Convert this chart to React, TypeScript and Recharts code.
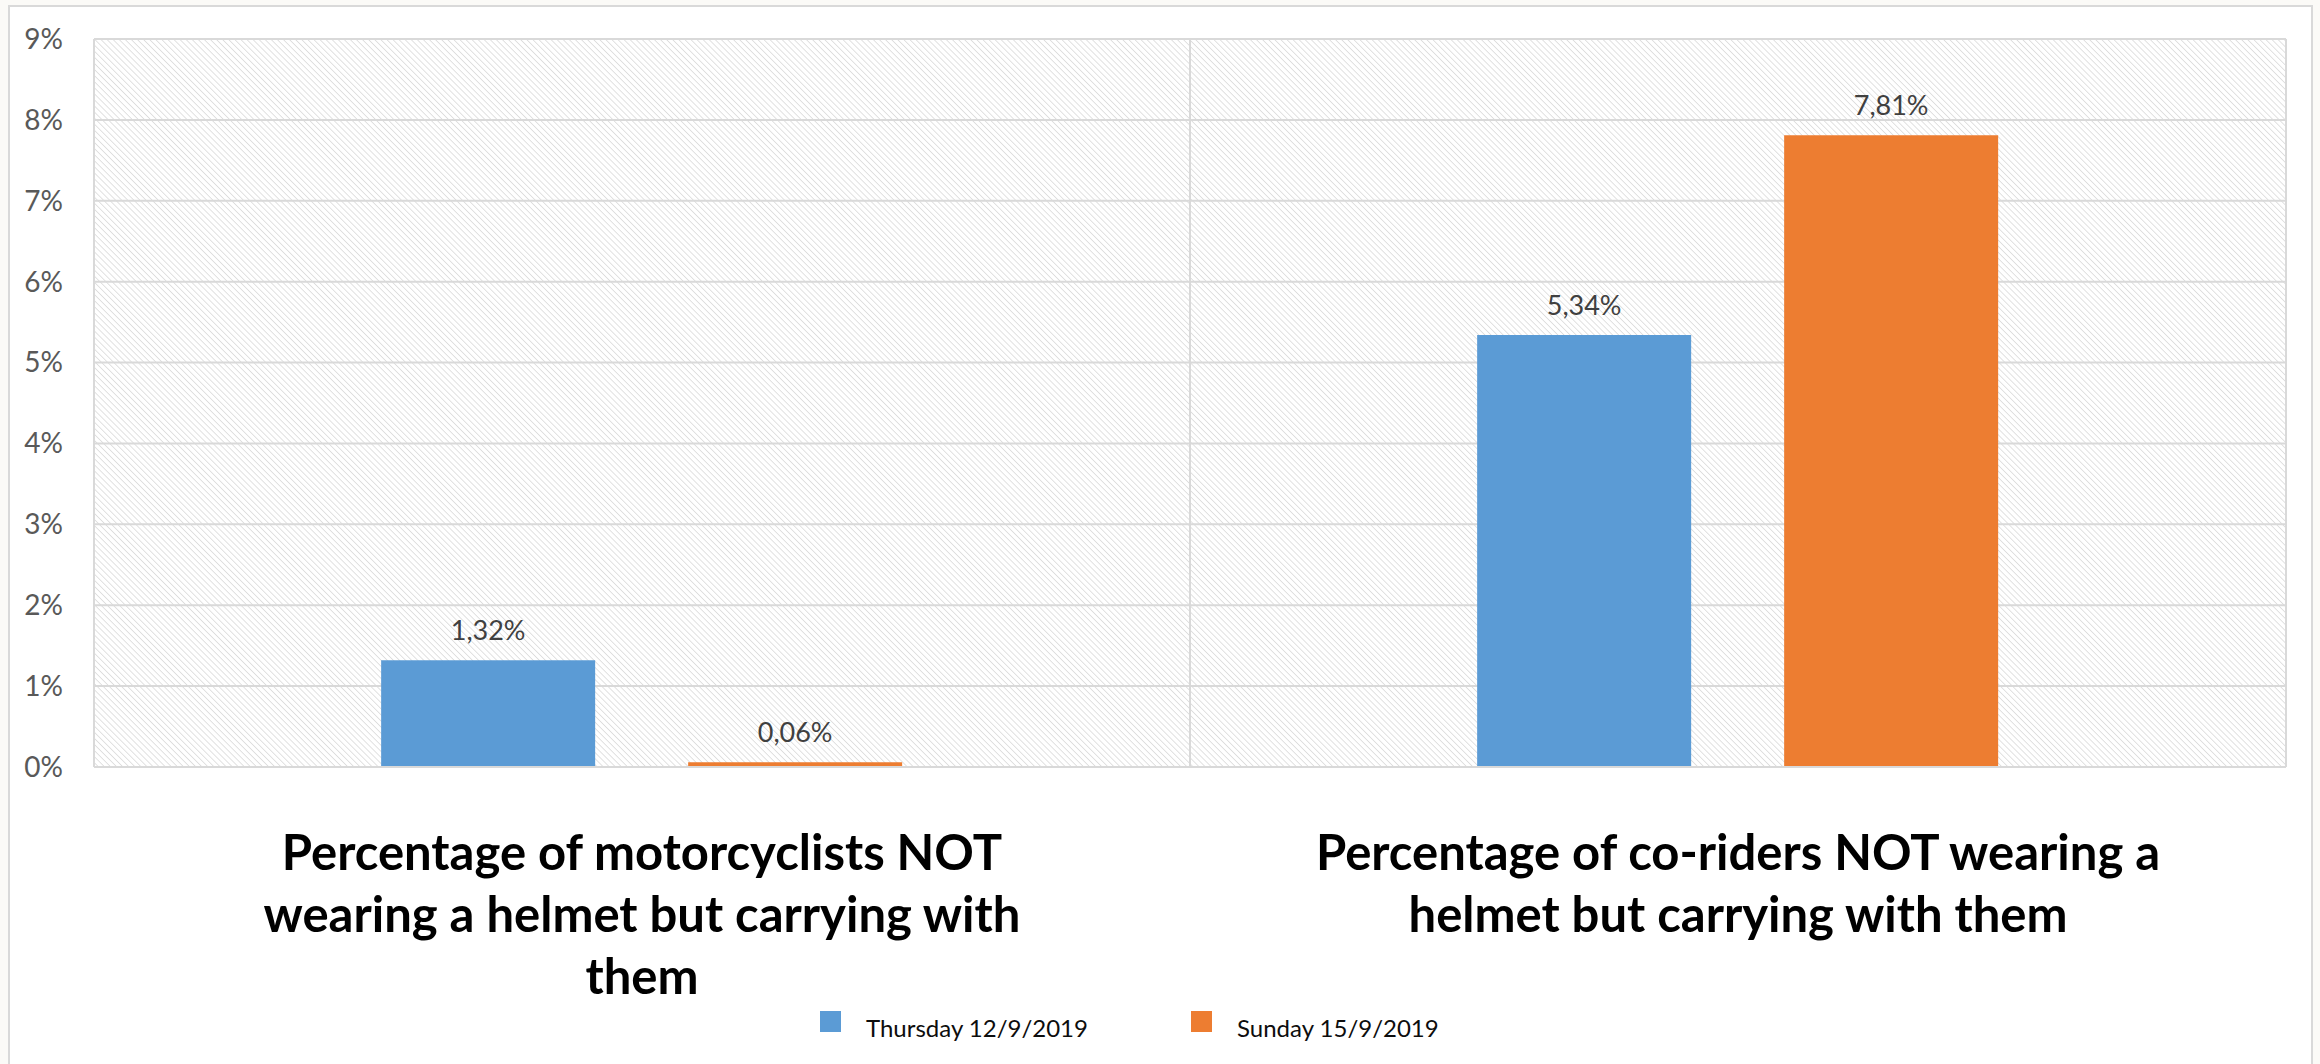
import React from 'react';
import { BarChart, Bar, XAxis, YAxis, CartesianGrid, LabelList } from 'recharts';

// Category labels, already broken into display lines
const categoryLines: string[][] = [
  ['Percentage of motorcyclists NOT', 'wearing a helmet but carrying with', 'them'],
  ['Percentage of co-riders NOT wearing a', 'helmet but carrying with them'],
];
const categories: string[] = categoryLines.map((lines) => lines.join(' '));

// Shares in percent
const thursdayValues: number[] = [1.32, 5.34];
const sundayValues: number[] = [0.06, 7.81];

const seriesKeys = ['thursday', 'sunday'];
const seriesNames: string[] = ['Thursday 12/9/2019', 'Sunday 15/9/2019'];
const seriesColors: string[] = ['#5B9BD5', '#ED7D31'];

const yTicks: number[] = [0, 1, 2, 3, 4, 5, 6, 7, 8, 9];

const data = categories.map((category, i) => ({
  category,
  thursday: thursdayValues[i],
  sunday: sundayValues[i],
}));

const FONT = 'Lato, "Open Sans", sans-serif';

const formatPct = (v: number) => `${v.toFixed(2).replace('.', ',')}%`;

const CategoryTick = (props: any) => {
  const { x, y, payload } = props;
  const idx = categories.indexOf(payload.value);
  const lines = idx >= 0 ? categoryLines[idx] : [String(payload.value)];
  return (
    <text
      x={x}
      y={y}
      textAnchor="middle"
      fontFamily={FONT}
      fontWeight={700}
      fontSize={49}
      fill="#000000"
    >
      {lines.map((line, i) => (
        <tspan key={i} x={x} dy={i === 0 ? 97 : 62}>
          {line}
        </tspan>
      ))}
    </text>
  );
};

// Vertical rules: plot edges plus the boundary between categories
const verticalLines = ({ offset }: any) => {
  const n = categories.length;
  const pts: number[] = [];
  for (let i = 0; i <= n; i++) pts.push(offset.left + (offset.width * i) / n);
  return pts;
};

export default function App() {
  return (
    <div
      style={{
        position: 'fixed',
        left: 0,
        top: 0,
        width: 2320,
        height: 1064,
        background: '#FBFAF7',
        overflow: 'hidden',
      }}
    >
      <div
        style={{
          position: 'absolute',
          left: 8,
          top: 5,
          width: 2305,
          height: 1100,
          border: '2px solid #D9D9D9',
          background: '#FFFFFF',
          boxSizing: 'border-box',
        }}
      />
      <div style={{ position: 'absolute', left: 0, top: 0 }}>
        <BarChart
          width={2320}
          height={1064}
          data={data}
          margin={{ top: 39, right: 34, left: 14, bottom: 47 }}
          barCategoryGap="26.2%"
          barGap={93}
        >
          <defs>
            <pattern
              id="hatch"
              patternUnits="userSpaceOnUse"
              width={4.3}
              height={4.3}
              patternTransform="rotate(-45)"
            >
              <line x1={0} y1={0} x2={0} y2={4.3} stroke="#D2D2D2" strokeWidth={1.3} />
            </pattern>
          </defs>
          <CartesianGrid
            fill="url(#hatch)"
            stroke="#D9D9D9"
            strokeWidth={2}
            vertical
            verticalCoordinatesGenerator={verticalLines}
          />
          <XAxis
            dataKey="category"
            height={250}
            tickLine={false}
            tickMargin={0}
            axisLine={{ stroke: '#D9D9D9', strokeWidth: 2 }}
            tick={<CategoryTick />}
            interval={0}
          />
          <YAxis
            width={80}
            domain={[0, 9]}
            ticks={yTicks}
            tickFormatter={(v: number) => `${v}%`}
            axisLine={false}
            tickLine={false}
            tickMargin={25}
            tick={{ fill: '#595959', fontSize: 28, fontFamily: FONT }}
            interval={0}
          />
          {seriesKeys.map((key, i) => (
            <Bar
              key={key}
              dataKey={key}
              name={seriesNames[i]}
              fill={seriesColors[i]}
              isAnimationActive={false}
            >
              <LabelList
                dataKey={key}
                position="top"
                offset={20}
                formatter={(v: any) => formatPct(Number(v))}
                style={{ fill: '#404040', fontSize: 27, fontFamily: FONT }}
              />
            </Bar>
          ))}
        </BarChart>
      </div>
      {/* Legend */}
      <div
        style={{
          position: 'absolute',
          left: 820,
          top: 1011,
          display: 'flex',
          alignItems: 'flex-start',
          fontFamily: FONT,
          fontSize: 24,
          lineHeight: 1,
          color: '#0D0D0D',
        }}
      >
        {seriesNames.map((name, i) => (
          <div
            key={name}
            style={{ display: 'flex', alignItems: 'flex-start', width: i === 0 ? 371 : 'auto' }}
          >
            <div style={{ width: 21, height: 21, background: seriesColors[i], marginRight: 25 }} />
            <span style={{ whiteSpace: 'nowrap', marginTop: 5 }}>{name}</span>
          </div>
        ))}
      </div>
    </div>
  );
}
